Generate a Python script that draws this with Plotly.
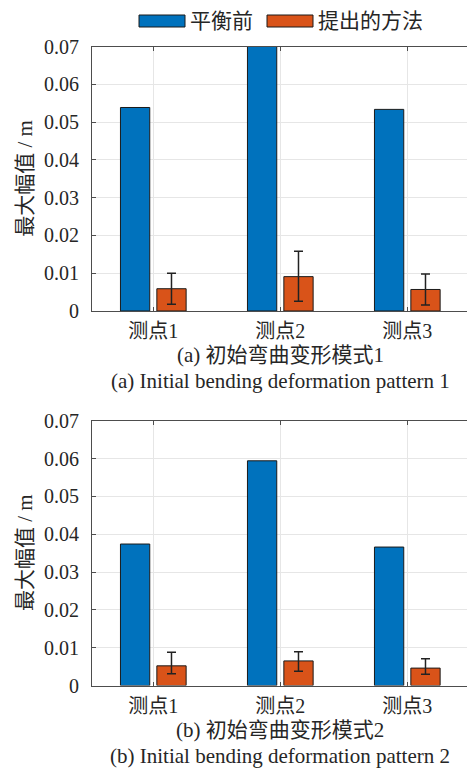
import plotly.graph_objects as go
from plotly.subplots import make_subplots

# ---- data ----
categories = ["测点1", "测点2", "测点3"]
series_names = ["平衡前", "提出的方法"]

before_a = [0.0539, 0.0710, 0.0534]
method_a = [0.0059, 0.0091, 0.0057]
err_a_plus = [0.0041, 0.0067, 0.0041]
err_a_minus = [0.0041, 0.0065, 0.0041]

before_b = [0.0374, 0.0594, 0.0366]
method_b = [0.0052, 0.0065, 0.0046]
err_b_plus = [0.0036, 0.0024, 0.0025]
err_b_minus = [0.0021, 0.0027, 0.0016]

y_ticks = [0, 0.01, 0.02, 0.03, 0.04, 0.05, 0.06, 0.07]
y_ticktext = ["0", "0.01", "0.02", "0.03", "0.04", "0.05", "0.06", "0.07"]
captions_cn = ["(a) 初始弯曲变形模式1", "(b) 初始弯曲变形模式2"]
captions_en = ["(a) Initial bending deformation pattern 1",
               "(b) Initial bending deformation pattern 2"]
y_title = "最大幅值 / m"

# ---- style ----
W, H = 467, 769
BLUE = "#0072BD"
ORANGE = "#D95319"
FONT = "Liberation Serif, Noto Sans CJK SC, serif"
FS_TICK = 20
FS_TEXT = 21
TEXT_COL = "#262626"
AXIS_COL = "#4d4d4d"
GRID_COL = "#e6e6e6"

x_pos = [1, 2, 3]

fig = make_subplots(rows=2, cols=1)

panels = [
    (before_a, method_a, err_a_plus, err_a_minus),
    (before_b, method_b, err_b_plus, err_b_minus),
]
for i, (bef, meth, ep, em) in enumerate(panels, start=1):
    fig.add_trace(go.Bar(
        x=x_pos, y=bef, name=series_names[0], marker_color=BLUE,
        marker_line=dict(color="#1a1a1a", width=1), showlegend=False,
    ), row=i, col=1)
    fig.add_trace(go.Bar(
        x=x_pos, y=meth, name=series_names[1], marker_color=ORANGE,
        marker_line=dict(color="#1a1a1a", width=1), showlegend=False,
        error_y=dict(type="data", symmetric=False, array=ep, arrayminus=em,
                     color="#222222", thickness=1.5, width=4.5),
    ), row=i, col=1)

# pixel helpers
def px_x(p):
    return p / W

def px_y(p):
    return 1 - p / H

left_px = 92
# panel vertical extents in pixels (top, bottom)
panel_px = [(46.7, 311.0), (420.7, 685.5)]
spacing_px = 127.0
center1_px = 153.3
x_lo = 1 - (center1_px - left_px) / spacing_px
x_hi = x_lo + (W - left_px) / spacing_px

for i, (top, bot) in enumerate(panel_px, start=1):
    xa = "xaxis" if i == 1 else f"xaxis{i}"
    ya = "yaxis" if i == 1 else f"yaxis{i}"
    fig.update_layout({
        xa: dict(
            domain=[px_x(left_px), 1], range=[x_lo, x_hi],
            tickvals=x_pos, ticktext=categories, automargin=False,
            showline=True, linecolor=AXIS_COL, linewidth=1, mirror="ticks",
            ticks="inside", ticklen=4, tickcolor=AXIS_COL, tickwidth=1,
            showgrid=True, gridcolor=GRID_COL, gridwidth=1,
            tickfont=dict(family=FONT, size=FS_TICK, color=TEXT_COL),
            ticklabelstandoff=2, zeroline=False,
        ),
        ya: dict(
            domain=[px_y(bot), px_y(top)], range=[0, 0.07],
            tickvals=y_ticks, ticktext=y_ticktext, automargin=False,
            showline=True, linecolor=AXIS_COL, linewidth=1,
            ticks="inside", ticklen=4, tickcolor=AXIS_COL, tickwidth=1,
            showgrid=True, gridcolor=GRID_COL, gridwidth=1,
            tickfont=dict(family=FONT, size=FS_TICK, color=TEXT_COL),
            ticklabelstandoff=8, zeroline=False,
        ),
    })

annotations = []
center_x = px_x(280)
for i, (top, bot) in enumerate(panel_px):
    # y-axis title
    annotations.append(dict(
        text=y_title, textangle=-90, x=px_x(25), y=px_y((top + bot) / 2),
        xref="paper", yref="paper", showarrow=False,
        xanchor="center", yanchor="middle",
        font=dict(family=FONT, size=FS_TEXT, color=TEXT_COL),
    ))
    # captions under each panel
    annotations.append(dict(
        text=captions_cn[i], x=center_x, y=px_y(bot + 44),
        xref="paper", yref="paper", showarrow=False,
        xanchor="center", yanchor="middle",
        font=dict(family=FONT, size=FS_TEXT, color=TEXT_COL),
    ))
    annotations.append(dict(
        text=captions_en[i], x=center_x, y=px_y(bot + 70),
        xref="paper", yref="paper", showarrow=False,
        xanchor="center", yanchor="middle",
        font=dict(family=FONT, size=FS_TEXT, color=TEXT_COL),
    ))

# legend at the top: wide colour swatches followed by names
shapes = []
legend_items = [(series_names[0], BLUE, 139), (series_names[1], ORANGE, 267)]
sw_w, sw_top, sw_bot, leg_cy = 46, 15, 27, 21
for name, col, x0 in legend_items:
    shapes.append(dict(
        type="rect", xref="paper", yref="paper",
        x0=px_x(x0), x1=px_x(x0 + sw_w), y0=px_y(sw_bot), y1=px_y(sw_top),
        fillcolor=col, line=dict(color="#1a1a1a", width=1),
    ))
    annotations.append(dict(
        text=name, x=px_x(x0 + sw_w + 3), y=px_y(leg_cy),
        xref="paper", yref="paper", showarrow=False,
        xanchor="left", yanchor="middle",
        font=dict(family=FONT, size=FS_TEXT, color=TEXT_COL),
    ))

fig.update_layout(
    width=W, height=H,
    margin=dict(l=0, r=0, t=0, b=0, autoexpand=False),
    paper_bgcolor="white", plot_bgcolor="white",
    barmode="group", bargap=0.427, bargroupgap=0.195,
    annotations=annotations, shapes=shapes,
    showlegend=False,
)

fig.write_html("out.html")
